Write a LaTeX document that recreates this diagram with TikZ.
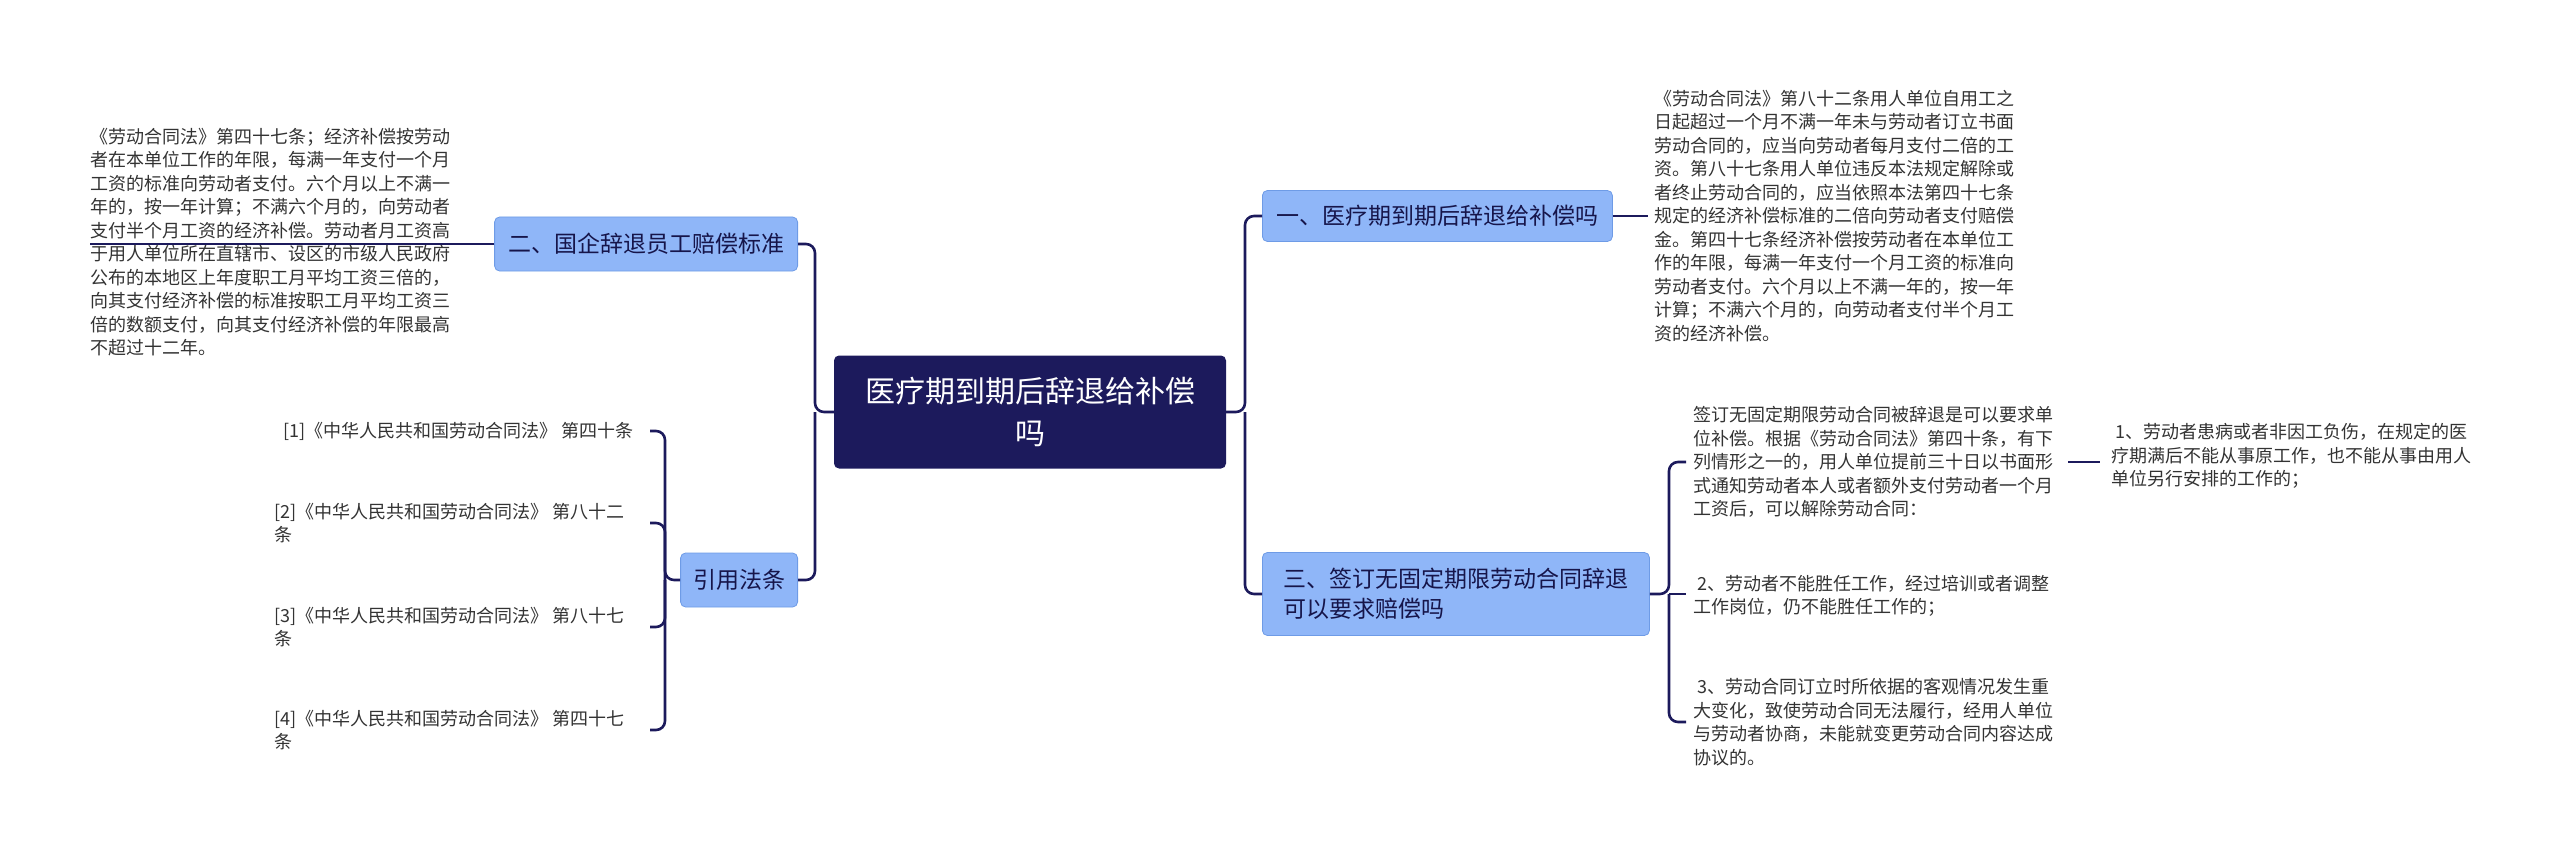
\documentclass[tikz,border=0pt]{standalone}
\usepackage{fontspec}
\setmainfont{Noto Sans CJK SC}
\definecolor{navy}{HTML}{1C1A5C}
\definecolor{bluef}{HTML}{8FB6F8}
\definecolor{blued}{HTML}{6E9BE6}
\definecolor{txt}{HTML}{333333}
\begin{document}
\begin{tikzpicture}[x=1pt,y=-1pt,
  conn/.style={draw=navy,line width=2.6pt,rounded corners=9pt},
  topic/.style={fill=bluef,draw=blued,line width=0.8pt,rounded corners=5pt,text=navy!80!black,font=\fontsize{23}{30}\selectfont,align=left,inner xsep=10pt,inner ysep=6pt},
  leaf/.style={text=txt,font=\fontsize{18}{23.5}\selectfont,align=left,inner sep=0pt,anchor=west}]
\useasboundingbox (0,0) rectangle (2560,861);
\node[fill=navy,rounded corners=5pt,text=white,font=\fontsize{30}{42}\selectfont,align=center,minimum width=392pt,minimum height=113pt] (c) at (1030,412) {医疗期到期后辞退给补偿\\吗};
\node[topic,minimum width=350pt,minimum height=51pt,anchor=west] (n1) at (1262,216) {一、医疗期到期后辞退给补偿吗};
\node[topic,minimum width=387pt,minimum height=83pt,anchor=west] (n3) at (1262,594) {三、签订无固定期限劳动合同辞退\\可以要求赔偿吗};
\node[topic,minimum width=303pt,minimum height=54pt,anchor=east] (n2) at (798,244) {二、国企辞退员工赔偿标准};
\node[topic,minimum width=117pt,minimum height=54pt,anchor=east] (n4) at (798,580) {引用法条};
\node[leaf] (l2) at (90,242) {《劳动合同法》第四十七条；经济补偿按劳动\\者在本单位工作的年限，每满一年支付一个月\\工资的标准向劳动者支付。六个月以上不满一\\年的，按一年计算；不满六个月的，向劳动者\\支付半个月工资的经济补偿。劳动者月工资高\\于用人单位所在直辖市、设区的市级人民政府\\公布的本地区上年度职工月平均工资三倍的，\\向其支付经济补偿的标准按职工月平均工资三\\倍的数额支付，向其支付经济补偿的年限最高\\不超过十二年。};
\node[leaf] (l1) at (1654,216) {《劳动合同法》第八十二条用人单位自用工之\\日起超过一个月不满一年未与劳动者订立书面\\劳动合同的，应当向劳动者每月支付二倍的工\\资。第八十七条用人单位违反本法规定解除或\\者终止劳动合同的，应当依照本法第四十七条\\规定的经济补偿标准的二倍向劳动者支付赔偿\\金。第四十七条经济补偿按劳动者在本单位工\\作的年限，每满一年支付一个月工资的标准向\\劳动者支付。六个月以上不满一年的，按一年\\计算；不满六个月的，向劳动者支付半个月工\\资的经济补偿。};
\node[leaf] (r1) at (283,431) {[1]《中华人民共和国劳动合同法》 第四十条};
\node[leaf] (r2) at (274,523) {[2]《中华人民共和国劳动合同法》 第八十二\\条};
\node[leaf] (r3) at (274,627) {[3]《中华人民共和国劳动合同法》 第八十七\\条};
\node[leaf] (r4) at (274,730) {[4]《中华人民共和国劳动合同法》 第四十七\\条};
\node[leaf] (s1) at (1693,462) {签订无固定期限劳动合同被辞退是可以要求单\\位补偿。根据《劳动合同法》第四十条，有下\\列情形之一的，用人单位提前三十日以书面形\\式通知劳动者本人或者额外支付劳动者一个月\\工资后，可以解除劳动合同：};
\node[leaf] (s2) at (1693,596) {\ 2、劳动者不能胜任工作，经过培训或者调整\\工作岗位，仍不能胜任工作的；};
\node[leaf] (s3) at (1693,722) {\ 3、劳动合同订立时所依据的客观情况发生重\\大变化，致使劳动合同无法履行，经用人单位\\与劳动者协商，未能就变更劳动合同内容达成\\协议的。};
\node[leaf] (t1) at (2111,456) {\ 1、劳动者患病或者非因工负伤，在规定的医\\疗期满后不能从事原工作，也不能从事由用人\\单位另行安排的工作的；};
\coordinate (rb) at (1245,412);
\coordinate (lb) at (815,412);
\coordinate (refb) at (665,580);
\coordinate (sb) at (1669,594);
\draw[conn] (c.east) -- (rb) |- (n1.west);
\draw[conn] (rb) |- (n3.west);
\draw[conn] (c.west) -- (lb) |- (n2.east);
\draw[conn] (lb) |- (n4.east);
\draw[conn] (n2.west) -- (l2.west|-n2.west) ++(0,0);
\draw[conn] (n2.west) -- (460,244);
\draw[conn] (n1.east) -- (1648,216);
\draw[conn] (n4.west) -- (refb) |- (650,431);
\draw[conn] (refb) |- (650,523);
\draw[conn] (refb) |- (650,627);
\draw[conn] (refb) |- (650,730);
\draw[conn] (n3.east) -- (sb) |- (1686,462);
\draw[conn] (sb) -- (1686,594);
\draw[conn] (sb) |- (1686,722);
\draw[conn] (2068,462) -- (2100,462);
\end{tikzpicture}
\end{document}
